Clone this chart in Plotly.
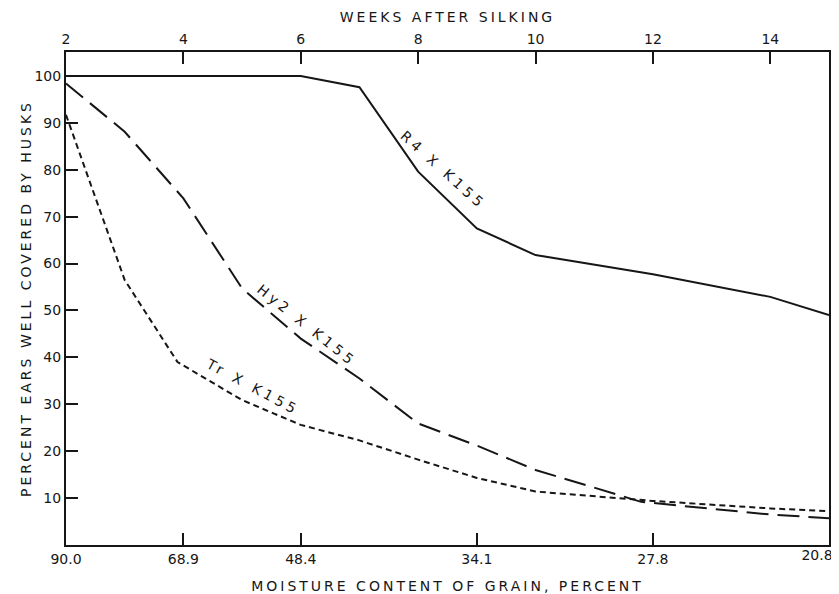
import plotly.graph_objects as go

# ---- data ----
weeks_r4 = [2, 6, 7, 8, 9, 10, 12, 13, 14, 15]
pct_r4 = [100, 100, 97.6, 79.6, 67.5, 61.8, 57.7, 55.3, 52.9, 49.0]

weeks_hy2 = [2, 3, 4, 5, 6, 7, 8, 9, 10, 11.8, 14, 15]
pct_hy2 = [98.4, 88.1, 73.9, 54.7, 44.0, 35.5, 25.9, 21.2, 16.0, 9.2, 6.5, 5.7]

weeks_tr = [2, 3, 3.9, 5, 6, 7, 8, 9, 10, 12, 14, 15]
pct_tr = [91.7, 56.5, 39.0, 30.9, 25.6, 22.3, 18.2, 14.3, 11.4, 9.4, 7.8, 7.2]

week_ticks = [2, 4, 6, 8, 10, 12, 14]
moisture_weeks = [2, 4, 6, 9, 12, 15]
moisture_labels = ["90.0", "68.9", "48.4", "34.1", "27.8", "20.8"]
y_ticks = [10, 20, 30, 40, 50, 60, 70, 80, 90, 100]

series_labels = ["R4 X K155", "Hy2 X K155", "Tr X K155"]

INK = "#161616"
FONT = "DejaVu Sans"

def spaced(t, px=3):
    return f'<span style="letter-spacing:{px}px">{t}</span>'

fig = go.Figure()
fig.add_trace(go.Scatter(x=weeks_r4, y=pct_r4, mode="lines",
                         line=dict(color=INK, width=2, dash="solid"),
                         name=series_labels[0]))
fig.add_trace(go.Scatter(x=weeks_hy2, y=pct_hy2, mode="lines",
                         line=dict(color=INK, width=2, dash="22px,9px"),
                         name=series_labels[1]))
fig.add_trace(go.Scatter(x=weeks_tr, y=pct_tr, mode="lines",
                         line=dict(color=INK, width=2, dash="6px,4px"),
                         name=series_labels[2]))
# helper traces (invisible) so the extra x axes are drawn
fig.add_trace(go.Scatter(x=weeks_r4, y=pct_r4, xaxis="x2", mode="lines",
                         line=dict(width=0), opacity=0, hoverinfo="skip",
                         showlegend=False))
fig.add_trace(go.Scatter(x=weeks_r4, y=pct_r4, xaxis="x3", mode="lines",
                         line=dict(width=0), opacity=0, hoverinfo="skip",
                         showlegend=False))

tick_font = dict(family=FONT, size=14, color=INK)
common_x = dict(range=[2, 15], showgrid=False, zeroline=False,
                linecolor=INK, linewidth=2, ticks="inside", ticklen=12,
                tickwidth=2, tickcolor=INK, tickfont=tick_font,
                tickmode="array")

# the page has an 8px body margin, so the figure is sized to end at the window edge
fig.update_layout(
    width=831, height=586,
    margin=dict(l=58, r=10, t=44, b=49, autoexpand=False),
    paper_bgcolor="white", plot_bgcolor="white",
    showlegend=False,
    xaxis=dict(**common_x, side="bottom",
               tickvals=moisture_weeks[:-1], ticktext=moisture_labels[:-1],
               title=dict(text=spaced("MOISTURE CONTENT OF GRAIN, PERCENT"),
                          font=tick_font, standoff=17)),
    xaxis2=dict(**common_x, side="top", overlaying="x", anchor="y",
                tickvals=week_ticks, ticktext=[str(w) for w in week_ticks],
                title=dict(text=spaced("WEEKS AFTER SILKING"),
                           font=tick_font, standoff=6)),
    xaxis3=dict(range=[2, 15], overlaying="x", side="bottom", anchor="y",
                showgrid=False, zeroline=False, showline=False, ticks="",
                tickmode="array", tickvals=moisture_weeks[-1:],
                ticktext=moisture_labels[-1:], ticklabelshift=-12,
                tickfont=tick_font),
    yaxis=dict(range=[0, 105.1], showgrid=False, zeroline=False,
               linecolor=INK, linewidth=2, mirror=True,
               ticks="inside", ticklen=12, tickwidth=2, tickcolor=INK,
               tickmode="array", tickvals=y_ticks, tickfont=tick_font,
               title=dict(text=spaced("PERCENT EARS WELL COVERED BY HUSKS"),
                          font=tick_font, standoff=0)),
)

label_pos = [(8.43, 80.0, 42), (6.1, 46.9, 38.5), (5.19, 33.7, 28)]
for (lx, ly, ang), txt in zip(label_pos, series_labels):
    fig.add_annotation(x=lx, y=ly, xref="x", yref="y", text=spaced(txt, 4),
                       textangle=ang, showarrow=False, font=tick_font)

fig.write_html("out.html")
